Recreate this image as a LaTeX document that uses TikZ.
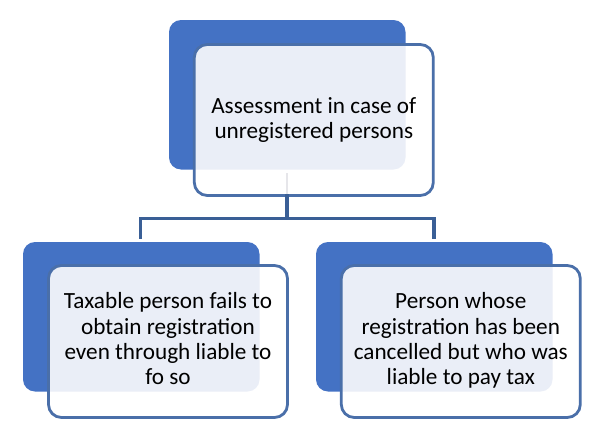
\documentclass[tikz,border=0pt]{standalone}
\usepackage{fontspec}
\setmainfont{Carlito}
\definecolor{backblue}{HTML}{4472C4}
\definecolor{edgeblue}{HTML}{4A6FA9}
\definecolor{linkblue}{HTML}{3A5F96}
\definecolor{overlap}{HTML}{EAEEF7}
\definecolor{stub}{HTML}{E6E6EA}
\newcommand{\lift}{\rule[-5.5pt]{0pt}{1pt}}
\begin{document}
\begin{tikzpicture}[x=1pt,y=-1pt,
  backbox/.style={fill=backblue,rounded corners=12pt,minimum width=236.5pt,minimum height=149.5pt,inner sep=0pt,outer sep=0pt,anchor=north west},
  frontbox/.style={draw=edgeblue,line width=2.8pt,fill=white,rounded corners=13pt,minimum width=239pt,minimum height=152pt,inner sep=0pt,outer sep=0pt,anchor=north west,align=center,font=\fontsize{23.2pt}{25.3pt}\selectfont,text=black,
    path picture={\fill[overlap,rounded corners=12pt] (#1.north west) rectangle (#1.south east);}},
  link/.style={draw=linkblue,line width=3.05pt}]
\useasboundingbox (0,0) rectangle (600,447);
\node[backbox] (topback) at (169,20) {};
\node[backbox] (leftback) at (23,242) {};
\node[backbox] (rightback) at (316,242) {};
\node[frontbox=topback,minimum height=151pt] (top) at (194.3,44.5) {Assessment in case of\\unregistered persons};
\node[frontbox=leftback] (left) at (48.5,265.5) {Taxable person fails to\\obtain registration\\even through liable to\\fo so\lift};
\node[frontbox=rightback] (right) at (341.3,265.5) {Person whose\\registration has been\\cancelled but who was\\liable to pay tax\lift};
\coordinate (stubtop) at (287,173);
\coordinate (stubend) at (287,194);
\coordinate (join) at (287,218.5);
\coordinate (leftcorner) at (140.5,218.5);
\coordinate (rightcorner) at (434,218.5);
\coordinate (leftend) at (140.5,238.5);
\coordinate (rightend) at (434,238.5);
\draw[stub,line width=2.4pt] (stubtop) -- (stubend);
\draw[link] (stubend) -- (join);
\draw[link] (leftend) -- (leftcorner) -- (rightcorner) -- (rightend);
\end{tikzpicture}
\end{document}
